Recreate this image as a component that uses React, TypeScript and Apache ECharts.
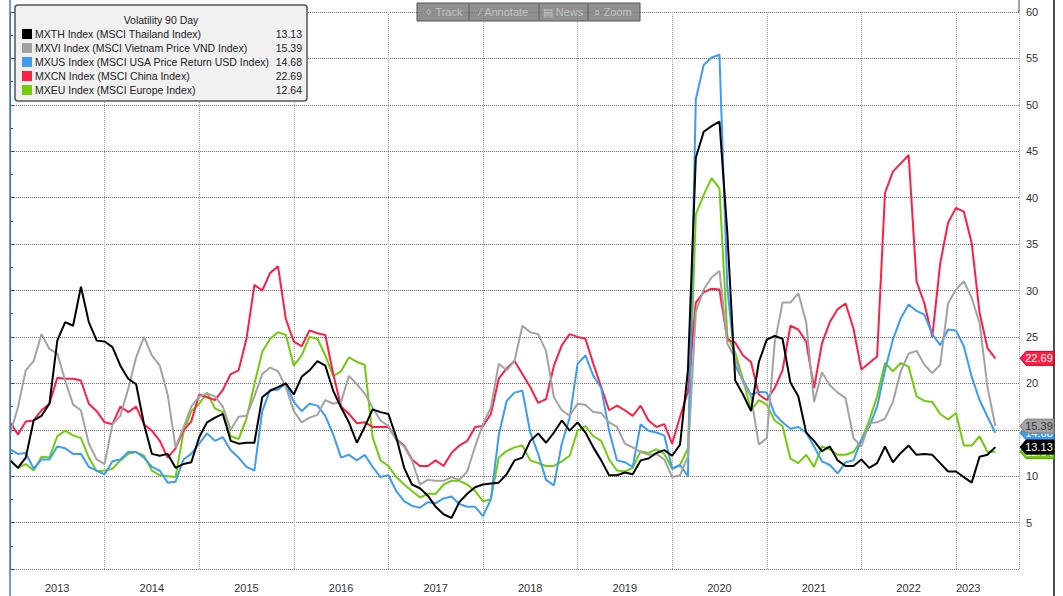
import React, { useEffect, useRef } from "react";
import * as echarts from "echarts";

// x positions: months since January 2013
const yearLabels = ["2013", "2014", "2015", "2016", "2017", "2018", "2019", "2020", "2021", "2022", "2023"];

const legendTitle = "Volatility 90 Day";
const seriesNames = [
  "MXTH Index (MSCI Thailand Index)",
  "MXVI Index (MSCI Vietnam Price VND Index)",
  "MXUS Index (MSCI USA Price Return USD Index)",
  "MXCN Index (MSCI China Index)",
  "MXEU Index (MSCI Europe Index)",
];
const seriesColors = ["#000000", "#a3a3a3", "#3d9df3", "#ff1f44", "#72cc0c"];
const lastValues = [13.13, 15.39, 14.68, 22.69, 12.64];

// monthly readings (Jan 2013 .. Jun 2023)
const mxth = [
  11.7, 10.9, 12.0, 16.0, 16.5, 17.8, 24.6, 26.6, 26.2, 30.4, 26.6, 24.6,
  24.5, 23.9, 21.9, 20.5, 19.9, 15.6, 12.4, 12.2, 12.4, 10.9, 11.3, 11.5,
  14.2, 15.8, 16.3, 16.7, 13.8, 13.5, 13.6, 13.6, 18.5, 19.2, 19.6, 20.0,
  18.8, 20.7, 21.4, 22.4, 21.9, 19.2, 17.4, 15.8, 13.6, 15.3, 17.2, 16.9,
  16.7, 14.2, 10.9, 9.1, 8.7, 7.9, 6.7, 5.9, 5.5, 7.2, 8.1, 8.8,
  9.1, 9.2, 9.3, 10.2, 11.7, 12.0, 13.8, 14.6, 13.6, 14.7, 16.0, 14.9,
  15.8, 14.7, 13.1, 11.7, 10.1, 10.1, 10.4, 10.2, 11.7, 11.9, 12.5, 12.8,
  12.2, 13.4, 21.4, 44.3, 47.1, 47.7, 48.2, 36.2, 20.3, 18.8, 17.0, 22.3,
  24.7, 25.1, 24.8, 20.1, 18.6, 14.7, 13.8, 12.7, 13.2, 11.7, 11.1, 11.1,
  11.8, 10.9, 11.4, 13.2, 11.5, 12.5, 13.3, 12.3, 12.4, 12.3, 11.4, 10.5,
  10.5, 9.9, 9.3, 12.1, 12.3, 13.13,
];
const mxvi = [
  14.5, 17.4, 21.4, 22.4, 25.3, 23.7, 23.2, 20.3, 17.7, 17.1, 13.5, 11.8,
  11.3, 15.6, 16.5, 19.4, 22.8, 25.0, 23.0, 21.9, 18.8, 13.1, 15.2, 17.5,
  18.6, 18.9, 18.6, 17.5, 15.0, 16.4, 16.5, 18.6, 21.0, 21.7, 21.3, 19.6,
  17.0, 15.8, 16.3, 16.6, 18.2, 17.8, 18.0, 20.8, 19.9, 18.9, 17.4, 16.0,
  15.4, 13.9, 13.2, 11.7, 9.1, 9.6, 9.5, 9.5, 9.9, 9.6, 10.5, 13.2,
  15.6, 17.4, 22.1, 21.4, 22.4, 26.2, 25.5, 25.3, 23.5, 18.5, 17.1, 16.5,
  17.8, 17.7, 16.9, 16.8, 15.8, 15.3, 13.5, 13.1, 12.6, 12.3, 12.4, 11.8,
  9.9, 10.1, 12.1, 27.7, 30.1, 31.4, 32.1, 24.3, 22.7, 20.1, 18.6, 13.4,
  14.1, 24.3, 28.7, 28.7, 29.7, 26.6, 18.0, 21.2, 19.8, 19.0, 18.4, 14.1,
  13.2, 15.7, 15.8, 16.2, 18.0, 21.3, 23.2, 23.5, 22.0, 21.1, 22.0, 28.6,
  30.1, 31.0, 29.2, 26.5, 19.6, 15.39,
];
const mxus = [
  12.9, 12.4, 12.5, 10.8, 11.8, 11.8, 13.2, 13.0, 12.4, 12.4, 11.0, 10.6,
  10.2, 11.6, 11.8, 12.6, 12.6, 12.0, 11.0, 10.6, 9.3, 9.4, 11.8, 12.4,
  13.5, 14.6, 13.8, 14.2, 12.8, 12.0, 11.0, 10.6, 17.0, 19.3, 19.3, 20.0,
  18.0, 17.0, 17.8, 17.6, 16.5, 14.5, 12.0, 12.3, 11.7, 12.3, 11.0, 9.9,
  10.1, 8.4, 7.3, 6.8, 6.6, 7.2, 7.1, 7.6, 7.8, 7.0, 6.7, 6.7,
  5.7, 7.5, 14.4, 18.1, 19.0, 19.2, 14.7, 12.4, 9.6, 9.0, 13.5, 16.3,
  22.1, 23.0, 20.8, 19.5, 14.9, 11.7, 11.5, 11.0, 15.6, 14.9, 14.7, 14.4,
  10.8, 11.2, 10.0, 50.6, 54.3, 55.1, 55.4, 30.3, 21.9, 20.3, 18.8, 19.1,
  19.0, 16.7, 15.8, 15.1, 15.3, 14.7, 13.2, 11.6, 11.2, 10.3, 11.5, 11.7,
  13.9, 15.3, 17.5, 21.4, 24.7, 27.0, 28.5, 27.8, 27.4, 25.3, 24.1, 25.8,
  25.7, 24.0, 20.7, 18.2, 16.4, 14.68,
];
const mxcn = [
  15.8, 14.5, 15.9, 16.0, 17.1, 17.8, 20.6, 20.5, 20.5, 20.3, 17.8, 17.0,
  15.8, 15.6, 17.5, 16.9, 17.5, 15.6, 14.9, 13.8, 12.0, 13.0, 14.9, 15.9,
  18.8, 18.5, 18.2, 19.3, 21.0, 21.4, 24.8, 30.6, 30.0, 31.9, 32.6, 26.9,
  24.5, 24.0, 25.7, 25.4, 25.2, 21.0, 17.5, 16.7, 15.7, 15.8, 15.3, 15.3,
  15.3, 14.0, 13.3, 11.8, 11.1, 11.1, 11.7, 11.1, 12.5, 13.3, 13.8, 15.3,
  15.4, 16.7, 20.5, 21.6, 22.4, 21.0, 19.6, 17.9, 18.3, 21.9, 24.1, 25.3,
  25.0, 24.8, 22.1, 19.6, 17.1, 17.6, 17.1, 16.5, 17.6, 16.0, 15.3, 15.6,
  13.5, 16.4, 19.1, 28.7, 29.8, 30.2, 30.1, 24.7, 24.4, 23.0, 22.3, 18.8,
  18.2, 19.5, 21.4, 26.2, 25.8, 24.5, 19.5, 24.3, 26.6, 28.0, 28.6, 25.9,
  21.5, 22.2, 22.9, 40.5, 42.8, 43.7, 44.6, 31.0, 28.6, 25.0, 32.9, 37.3,
  38.9, 38.5, 35.1, 27.6, 23.8, 22.69,
];
const mxeu = [
  11.8, 10.9, 11.3, 10.6, 12.1, 12.0, 14.3, 14.9, 14.4, 14.1, 12.0, 10.5,
  10.6, 10.8, 11.7, 12.4, 12.6, 12.2, 10.6, 10.1, 10.0, 9.9, 14.7, 17.0,
  17.8, 19.0, 17.3, 16.9, 14.3, 14.0, 16.2, 19.9, 23.4, 24.8, 25.5, 25.2,
  21.9, 23.0, 25.0, 24.8, 23.0, 20.8, 21.3, 22.8, 22.3, 22.0, 14.2, 11.7,
  11.1, 9.9, 9.1, 8.4, 7.7, 8.1, 8.1, 9.1, 9.5, 9.5, 9.1, 8.4,
  7.3, 7.5, 12.0, 12.7, 13.1, 13.3, 11.7, 11.4, 11.1, 11.1, 11.6, 12.2,
  14.9, 15.4, 14.3, 13.8, 11.8, 10.6, 10.5, 10.9, 12.7, 12.5, 12.9, 12.4,
  10.8, 11.2, 13.0, 38.2, 40.3, 42.1, 41.0, 25.1, 23.3, 20.4, 17.1, 18.2,
  17.7, 16.0, 15.4, 11.9, 11.4, 12.3, 11.0, 13.2, 12.9, 12.3, 12.3, 12.6,
  13.9, 16.0, 18.6, 22.2, 21.3, 22.2, 21.8, 18.6, 18.1, 18.0, 16.7, 16.1,
  16.8, 13.3, 13.3, 14.3, 12.6, 12.64,
];

const FONT = "'Liberation Sans', Arial, sans-serif";

export default function App() {
  const ref = useRef<HTMLDivElement>(null);

  useEffect(() => {
    if (!ref.current) return;
    const chart = echarts.init(ref.current, null, { renderer: "svg" });
    const allData = [mxth, mxvi, mxus, mxcn, mxeu];
    const drawOrder = [4, 3, 2, 1, 0];

    const series = drawOrder.map((i, k) => ({
      name: seriesNames[i],
      type: "line",
      data: allData[i].map((v, m) => [m, v]),
      showSymbol: false,
      symbol: "none",
      z: 2 + k,
      lineStyle: { color: seriesColors[i], width: 2 },
      itemStyle: { color: seriesColors[i] },
    }));

    chart.setOption({
      animation: false,
      backgroundColor: "#ffffff",
      grid: { left: 10, right: 44, top: 12, bottom: 27 },
      xAxis: {
        type: "value",
        min: 0,
        max: 128,
        interval: 12,
        axisLine: { show: false },
        axisTick: { show: false },
        splitLine: { show: true, lineStyle: { type: "dotted", color: "#a8a8a8", width: 1 } },
        axisLabel: {
          margin: 13,
          align: "left",
          color: "#333",
          fontSize: 11,
          fontFamily: FONT,
          formatter: (v: number) => {
            if (v % 12 !== 0) return "";
            const idx = v / 12;
            const label = yearLabels[idx];
            if (!label) return "";
            return idx === yearLabels.length - 1 ? `{b|${label}}` : `{a|${label}}`;
          },
          rich: {
            a: { padding: [0, 0, 0, 35], fontSize: 11, fontFamily: FONT, color: "#333" },
            b: { padding: [0, 0, 0, 0], fontSize: 11, fontFamily: FONT, color: "#333" },
          },
        },
      },
      yAxis: {
        type: "value",
        position: "right",
        min: 0,
        max: 60,
        interval: 5,
        axisLine: { show: true, lineStyle: { color: "#444", width: 1 } },
        axisTick: { show: true, length: 4, lineStyle: { color: "#444" } },
        minorTick: { show: true, splitNumber: 2, length: 3, lineStyle: { color: "#444" } },
        splitLine: { show: true, lineStyle: { type: "dotted", color: "#6a6a6a", width: 1 } },
        axisLabel: {
          color: "#333",
          fontSize: 11,
          fontFamily: FONT,
          margin: 7,
          formatter: (v: number) => (v === 0 ? "" : String(v)),
        },
      },
      series,
    });

    const graphics: any[] = [];
    // frame lines
    graphics.push({ type: "line", shape: { x1: 10, y1: 0, x2: 10, y2: 596 }, style: { stroke: "#3b82d6", lineWidth: 1.5 }, z: 10 });
    graphics.push({ type: "line", shape: { x1: 1054, y1: 0, x2: 1054, y2: 596 }, style: { stroke: "#111", lineWidth: 1.5 }, z: 10 });
    graphics.push({ type: "line", shape: { x1: 1019, y1: 0, x2: 1019, y2: 12 }, style: { stroke: "#444", lineWidth: 1 }, z: 10 });

    // toolbar
    graphics.push({ type: "rect", shape: { x: 417, y: 3, width: 223, height: 18 }, style: { fill: "rgba(125,125,125,0.85)", stroke: "#555", lineWidth: 1 }, z: 20 });
    const tools = [
      { t: "\u2727 Track", x: 443 },
      { t: "\u2044 Annotate", x: 504 },
      { t: "\u25A4 News", x: 563 },
      { t: "\u2315 Zoom", x: 613 },
    ];
    tools.forEach((tl) => {
      graphics.push({
        type: "text",
        x: tl.x,
        y: 12,
        z: 21,
        style: { text: tl.t, fill: "#c4c4c4", font: `11px ${FONT}`, textAlign: "center", textVerticalAlign: "middle", align: "center", verticalAlign: "middle" },
      });
    });
    [469, 539, 588].forEach((x) => {
      graphics.push({ type: "line", shape: { x1: x, y1: 4, x2: x, y2: 20 }, style: { stroke: "#5a5a5a", lineWidth: 1 }, z: 21 });
    });

    // legend box
    graphics.push({ type: "rect", shape: { x: 15, y: 5, width: 292, height: 96, r: 3 }, style: { fill: "#f1f1f1", stroke: "#555", lineWidth: 1.5 }, z: 30 });
    graphics.push({
      type: "text", x: 161, y: 20, z: 31,
      style: { text: legendTitle, fill: "#222", font: `10.5px ${FONT}`, textAlign: "center", textVerticalAlign: "middle", align: "center", verticalAlign: "middle" },
    });
    seriesNames.forEach((name, i) => {
      const cy = 34 + i * 14;
      graphics.push({ type: "rect", shape: { x: 22, y: cy - 5, width: 10, height: 10 }, style: { fill: seriesColors[i] }, z: 31 });
      graphics.push({
        type: "text", x: 35, y: cy, z: 31,
        style: { text: name, fill: "#222", font: `10.5px ${FONT}`, textAlign: "left", textVerticalAlign: "middle", align: "left", verticalAlign: "middle" },
      });
      graphics.push({
        type: "text", x: 302, y: cy, z: 31,
        style: { text: lastValues[i].toFixed(2), fill: "#222", font: `10.5px ${FONT}`, textAlign: "right", textVerticalAlign: "middle", align: "right", verticalAlign: "middle" },
      });
    });

    // end-value tags on the right axis
    const tagOrder = [2, 1, 4, 0, 3];
    const tagText = ["#ffffff", "#333333", "#ffffff", "#ffffff", "#ffffff"];
    const tagStroke = ["#000", "#777", "#2a7fd0", "#c80020", "#4f9a00"];
    tagOrder.forEach((i, k) => {
      const y = chart.convertToPixel({ yAxisIndex: 0 }, lastValues[i]) as number;
      const h = 7;
      graphics.push({
        type: "polygon",
        z: 40 + k,
        shape: { points: [[1020, y], [1026, y - h], [1054, y - h], [1054, y + h], [1026, y + h]] },
        style: { fill: seriesColors[i], stroke: tagStroke[i], lineWidth: 1 },
      });
      graphics.push({
        type: "text", x: 1039, y: y, z: 40 + k,
        style: { text: lastValues[i].toFixed(2), fill: tagText[i], font: `11px ${FONT}`, textAlign: "center", textVerticalAlign: "middle", align: "center", verticalAlign: "middle" },
      });
    });

    chart.setOption({ graphic: graphics });

    return () => chart.dispose();
  }, []);

  return (
    <div
      ref={ref}
      style={{ position: "fixed", left: 0, top: 0, width: 1063, height: 596, background: "#fff" }}
    />
  );
}
